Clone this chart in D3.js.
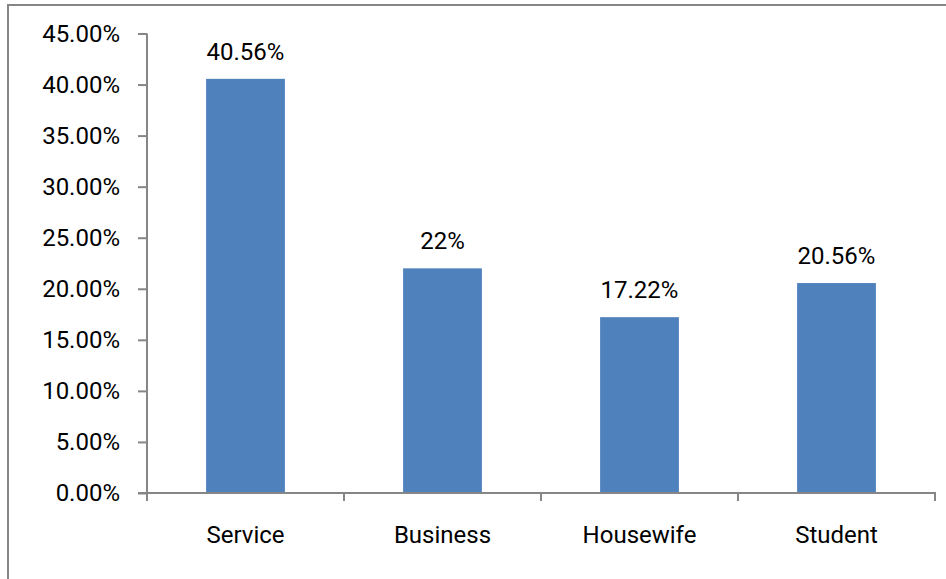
<!DOCTYPE html>
<html>
<head>
<meta charset="utf-8">
<script src="https://cdn.jsdelivr.net/npm/d3@7"></script>
<style>
  html, body { margin: 0; padding: 0; background: #fff; }
  svg { display: block; }
  text { font-family: Roboto, "Open Sans", sans-serif; fill: #000; }
</style>
</head>
<body>
<svg id="chart" width="946" height="579"></svg>
<script>
// Share of respondents by occupation
const categories = ["Service", "Business", "Housewife", "Student"];
const values = [40.56, 22, 17.22, 20.56];
const valueLabels = ["40.56%", "22%", "17.22%", "20.56%"];
const yTicks = [0, 5, 10, 15, 20, 25, 30, 35, 40, 45];

const svg = d3.select("#chart");
const W = 946, H = 579;
const plot = { left: 147, right: 935, top: 33.5, bottom: 493 };
const axisColor = "#868686";
const barColor = "#4F81BD";
const fontSize = 24;
const fontFamily = 'Roboto, "Open Sans", sans-serif';

// Chart-area frame (clipped at right and bottom)
svg.append("rect")
  .attr("x", 8).attr("y", 5)
  .attr("width", W + 10).attr("height", H + 10)
  .attr("fill", "none")
  .attr("stroke", axisColor)
  .attr("stroke-width", 2);

const x = d3.scaleBand()
  .domain(categories)
  .range([plot.left, plot.right])
  .paddingInner(0.6)
  .paddingOuter(0.3);

const y = d3.scaleLinear()
  .domain([0, 45])
  .range([plot.bottom, plot.top]);

// Y axis
const yAxis = d3.axisLeft(y)
  .tickValues(yTicks)
  .tickSize(9)
  .tickPadding(18)
  .tickFormat(d => d.toFixed(2) + "%");

const gy = svg.append("g")
  .attr("transform", `translate(${plot.left},0)`)
  .call(yAxis);
gy.select(".domain").attr("stroke", axisColor).attr("stroke-width", 2)
  .attr("d", `M0,${plot.top}V${plot.bottom}`);
gy.selectAll(".tick line").attr("stroke", axisColor).attr("stroke-width", 2);
gy.selectAll(".tick text")
  .style("font-family", fontFamily)
  .style("font-size", fontSize + "px")
  .attr("fill", "#000");

const rows = categories.map((c, i) => ({ c, v: values[i], label: valueLabels[i] }));

// Bars
svg.append("g").selectAll("rect")
  .data(rows)
  .join("rect")
  .attr("x", d => x(d.c))
  .attr("width", x.bandwidth())
  .attr("y", d => y(d.v))
  .attr("height", d => y(0) - y(d.v))
  .attr("fill", barColor);

// Value labels
svg.append("g").selectAll("text")
  .data(rows)
  .join("text")
  .attr("x", d => x(d.c) + x.bandwidth() / 2)
  .attr("y", d => y(d.v) - 19)
  .attr("text-anchor", "middle")
  .style("font-size", fontSize + "px")
  .text(d => d.label);

// X axis with boundary ticks between categories
const gx = svg.append("g");
gx.append("line")
  .attr("x1", plot.left - 9).attr("x2", plot.right + 1)
  .attr("y1", plot.bottom).attr("y2", plot.bottom)
  .attr("stroke", axisColor).attr("stroke-width", 2);
const boundaries = categories.map(c => x(c) - x.step() * x.paddingInner() / 2)
  .concat([plot.right]);
gx.selectAll("line.tick")
  .data(boundaries)
  .join("line")
  .attr("class", "tick")
  .attr("x1", d => d).attr("x2", d => d)
  .attr("y1", plot.bottom).attr("y2", plot.bottom + 8)
  .attr("stroke", axisColor).attr("stroke-width", 2);
gx.selectAll("text")
  .data(categories)
  .join("text")
  .attr("x", d => x(d) + x.bandwidth() / 2)
  .attr("y", 543)
  .attr("text-anchor", "middle")
  .style("font-size", fontSize + "px")
  .text(d => d);
</script>
</body>
</html>
